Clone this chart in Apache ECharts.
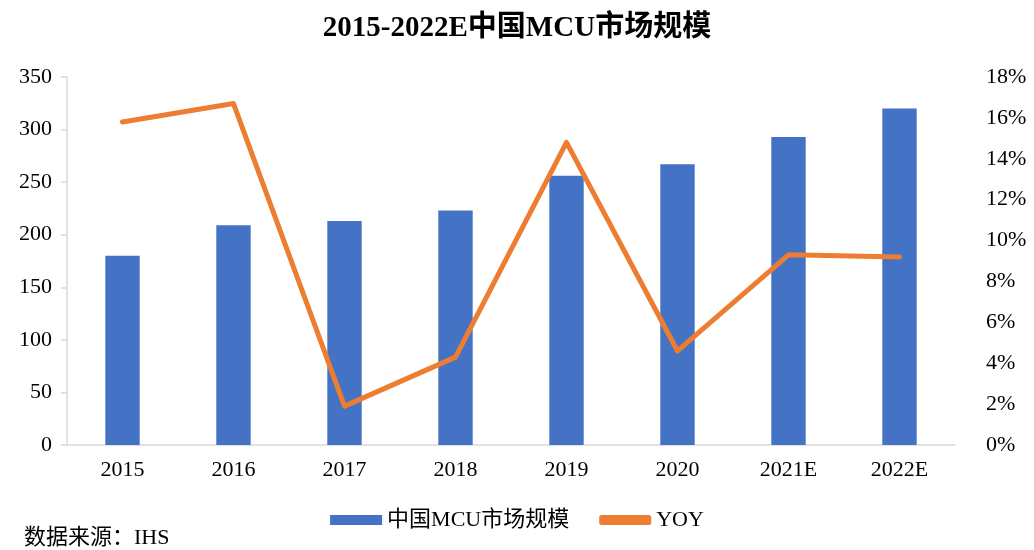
<!DOCTYPE html>
<html>
<head>
<meta charset="utf-8">
<script src="https://cdn.jsdelivr.net/npm/echarts@6/dist/echarts.min.js"></script>
<style>
  html, body { margin: 0; padding: 0; background: #fff; }
  #char1 { width: 1034px; height: 550px; }
</style>
</head>
<body>
<div id="char1"></div>
<script>
var years = ["2015", "2016", "2017", "2018", "2019", "2020", "2021E", "2022E"];
var marketSize = [180, 209, 213, 223, 256, 267, 293, 320];
var yoy = [15.8, 16.7, 1.9, 4.3, 14.8, 4.6, 9.3, 9.2];

var serif = "'Liberation Serif', 'Times New Roman', 'Noto Sans CJK SC', serif";

// 中国MCU市场规模
function char1() {
    var myChart = echarts.init(document.getElementById("char1"));

    var option = {
        animation: false,
        title: {
            text: "2015-2022E中国MCU市场规模",
            left: "center",
            top: 9,
            textStyle: {
                fontFamily: serif,
                fontSize: 29,
                fontWeight: "bold",
                color: "#000",
            },
        },
        graphic: [
            {
                type: "text",
                left: 24,
                top: 527,
                style: {
                    text: "数据来源：IHS",
                    font: "22px " + serif,
                    fill: "#000",
                },
            },
        ],
        legend: {
            bottom: 14,
            left: "center",
            itemWidth: 52,
            itemHeight: 10,
            itemGap: 30,
            textStyle: {
                fontFamily: serif,
                fontSize: 22,
                color: "#000",
            },
            data: [
                { name: "中国MCU市场规模", icon: "rect" },
                { name: "YOY", icon: "roundRect", itemStyle: { color: "#ed7d31" } },
            ],
        },
        grid: {
            left: 67,
            right: 79,
            top: 77,
            bottom: 105,
        },
        xAxis: {
            type: "category",
            data: years,
            axisLine: { lineStyle: { color: "#d9d9d9", width: 1.5 } },
            axisTick: { show: false },
            axisLabel: {
                fontFamily: serif,
                fontSize: 22,
                color: "#000",
                margin: 14,
            },
        },
        yAxis: [
            {
                type: "value",
                min: 0,
                max: 350,
                interval: 50,
                axisLine: { show: true, lineStyle: { color: "#d9d9d9", width: 1.5 } },
                axisTick: { show: true, length: 6, lineStyle: { color: "#d9d9d9", width: 1.5 } },
                splitLine: { show: false },
                axisLabel: {
                    fontFamily: serif,
                    fontSize: 22,
                    color: "#000",
                    margin: 15,
                },
            },
            {
                type: "value",
                min: 0,
                max: 18,
                interval: 2,
                axisLine: { show: false },
                axisTick: { show: false },
                splitLine: { show: false },
                axisLabel: {
                    fontFamily: serif,
                    fontSize: 22,
                    color: "#000",
                    margin: 31,
                    formatter: "{value}%",
                },
            },
        ],
        series: [
            {
                name: "中国MCU市场规模",
                type: "bar",
                barWidth: "31%",
                itemStyle: { color: "#4472c4" },
                data: marketSize,
            },
            {
                name: "YOY",
                type: "line",
                yAxisIndex: 1,
                symbol: "none",
                lineStyle: { color: "#ed7d31", width: 5, cap: "round", join: "round" },
                itemStyle: { color: "#ed7d31" },
                data: yoy,
            },
        ],
    };

    myChart.setOption(option);
    window.addEventListener("resize", function () {
        myChart.resize();
    });
}

char1();
</script>
</body>
</html>
